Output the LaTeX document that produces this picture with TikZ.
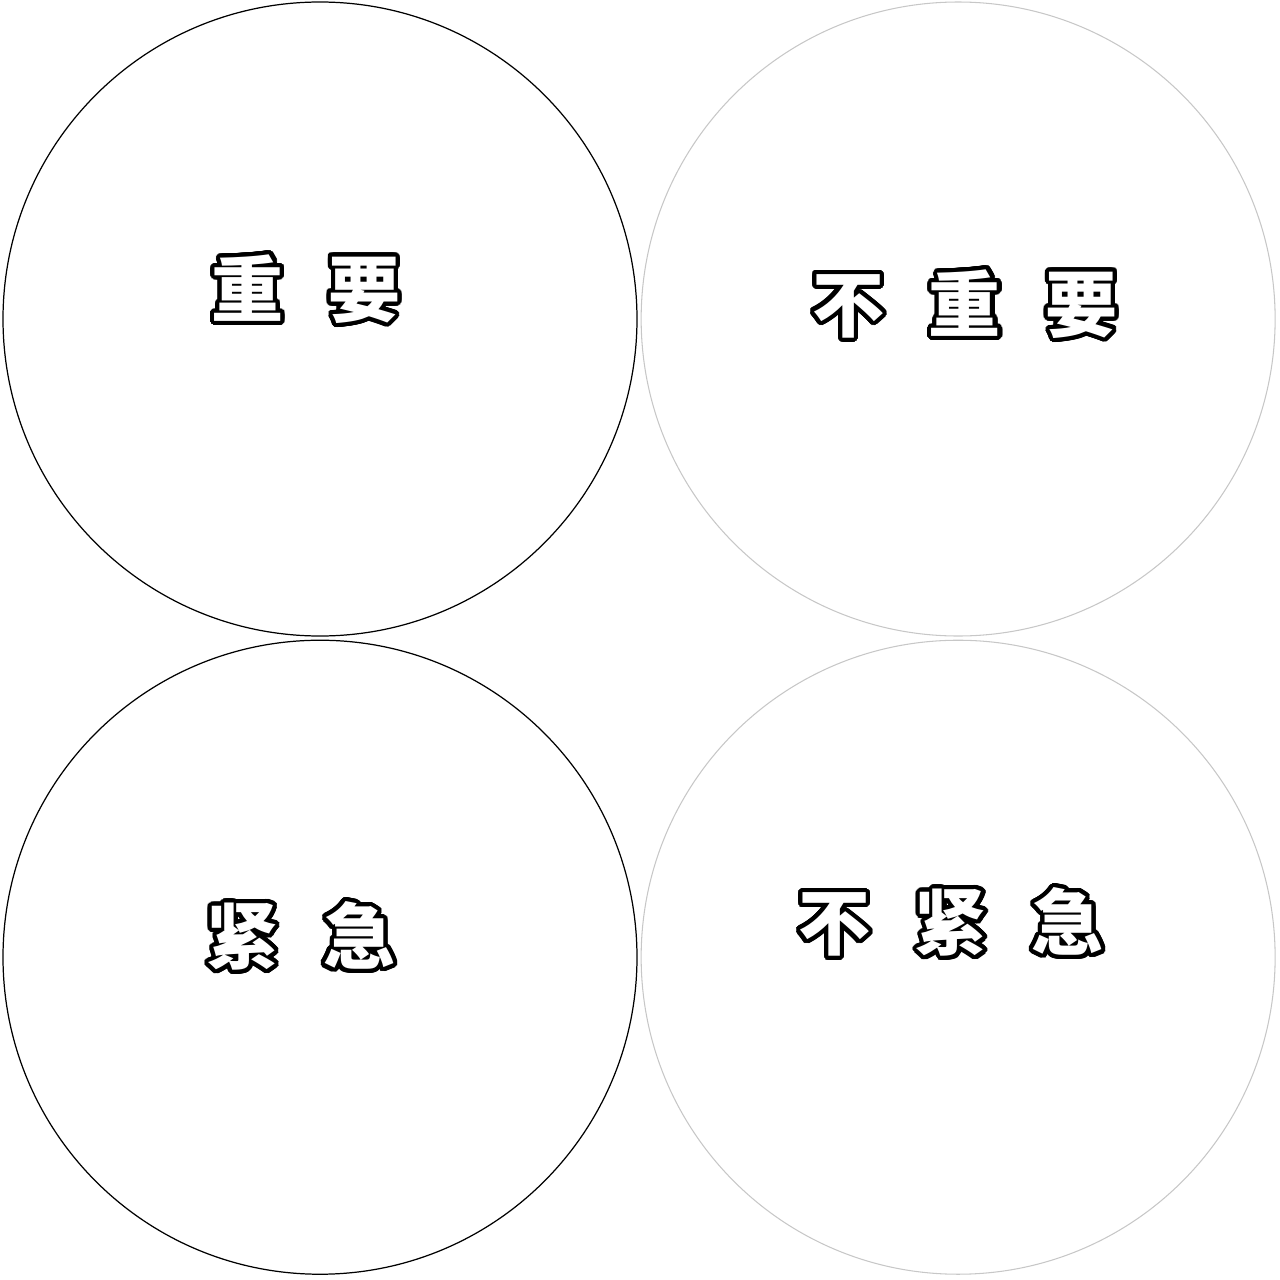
\documentclass[tikz,border=0pt]{standalone}
\usepackage{fontspec}
\usepackage{tikz}
\usepackage{contour}
\usetikzlibrary{positioning}
\newfontfamily\cjk{Noto Sans CJK SC}
\contourlength{0.42mm}
\contournumber{32}
\newcommand{\gap}{\hspace{0.62em}}
\newcommand{\hollow}[1]{\contour{black}{\textcolor{white}{#1}}}
\tikzset{
  solidring/.style={circle, draw=black, line width=0.35pt, minimum size=63.4mm, inner sep=0pt},
  palering/.style={circle, draw=black!22, line width=0.3pt, minimum size=63.4mm, inner sep=0pt},
  quadlabel/.style={inner sep=0pt, font=\cjk\bfseries\fontsize{20.5}{24}\selectfont}
}
\begin{document}
\begin{tikzpicture}[x=0.1mm, y=-0.1mm, node distance=0.3mm]
  \useasboundingbox (0,0) rectangle (1280,1280);
  % the four rings
  \node (imp) [solidring] at (320,319) {};
  \node (unimp) [palering, right=of imp] {};
  \node (urg) [solidring, below=of imp] {};
  \node (nonurg) [palering, right=of urg] {};
  % their labels
  \node (impText) [quadlabel] at (306,291) {\hollow{重\gap 要}};
  \node (unimpText) [quadlabel] at (965,306) {\hollow{不\gap 重\gap 要}};
  \node (urgText) [quadlabel] at (301,938) {\hollow{紧\gap 急}};
  \node (nonurgText) [quadlabel] at (951,924) {\hollow{不\gap 紧\gap 急}};
\end{tikzpicture}
\end{document}
